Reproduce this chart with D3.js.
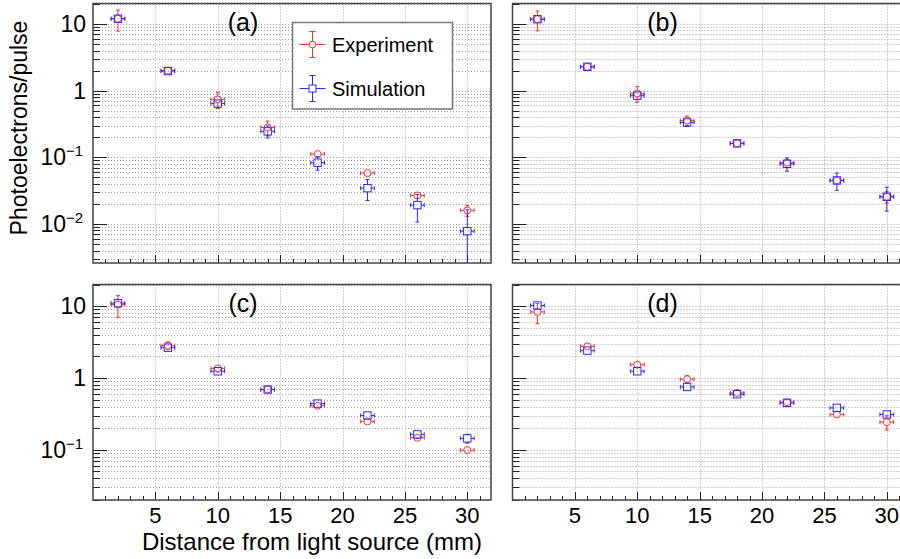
<!DOCTYPE html>
<html><head><meta charset="utf-8">
<script src="https://cdn.jsdelivr.net/npm/d3@7"></script>
<style>body{margin:0;background:#fff}svg{display:block;font-family:"Liberation Sans",Arial,Helvetica,sans-serif}</style>
</head><body><svg id="c" width="900" height="559"></svg>
<script>
// ---- data ----
const distances = [2, 6, 10, 14, 18, 22, 26, 30];
const xErr = 0.55;
const panelLabels = ["(a)", "(b)", "(c)", "(d)"];
const seriesNames = ["Experiment", "Simulation"];
const xTickValues = [5, 10, 15, 20, 25, 30];

const expA    = [12.0, 2.0, 0.74, 0.28, 0.112, 0.058, 0.0268, 0.016];
const expAErr = [4.2, 0.15, 0.2, 0.07, 0.01, 0.004, 0.002, 0.003];
const simA    = [12.0, 1.97, 0.64, 0.245, 0.083, 0.0345, 0.0192, 0.0078];
const simAErr = [1.2, 0.1, 0.08, 0.05, 0.019, 0.012, 0.0085, 0.0085];

const expB    = [11.8, 2.28, 0.91, 0.356, 0.162, 0.083, 0.045, 0.0256];
const expBErr = [3.9, 0.12, 0.24, 0.06, 0.012, 0.006, 0.004, 0.005];
const simB    = [11.8, 2.28, 0.84, 0.333, 0.162, 0.080, 0.045, 0.0256];
const simBErr = [1.2, 0.12, 0.08, 0.04, 0.015, 0.018, 0.013, 0.01];

const expC    = [10.5, 2.82, 1.36, 0.69, 0.41, 0.248, 0.147, 0.099];
const expCErr = [3.5, 0.35, 0.15, 0.06, 0.03, 0.015, 0.012, 0.008];
const simC    = [11.0, 2.64, 1.24, 0.69, 0.44, 0.30, 0.164, 0.144];
const simCErr = [1.0, 0.2, 0.1, 0.05, 0.04, 0.03, 0.02, 0.02];

const expD    = [8.3, 2.76, 1.53, 0.96, 0.62, 0.46, 0.31, 0.243];
const expDErr = [2.6, 0.25, 0.12, 0.12, 0.04, 0.04, 0.02, 0.055];
const simD    = [10.2, 2.4, 1.24, 0.75, 0.594, 0.45, 0.383, 0.31];
const simDErr = [0.8, 0.2, 0.08, 0.06, 0.05, 0.04, 0.03, 0.03];

// ---- layout ----
const svg = d3.select("#c");
const RED = "#ff3030", BLUE = "#2a2aff";
const panels = [
  {label: panelLabels[0], exp: expA, expErr: expAErr, sim: simA, simErr: simAErr, left: 93, top: 3.5, w: 398, h: 259.5, yDom: [0.0026, 20.3], yLab: true, xLab: false, legend: true},
  {label: panelLabels[1], exp: expB, expErr: expBErr, sim: simB, simErr: simBErr, left: 512.5, top: 3.5, w: 398, h: 259.5, yDom: [0.0026, 20.3], yLab: false, xLab: false},
  {label: panelLabels[2], exp: expC, expErr: expCErr, sim: simC, simErr: simCErr, left: 93, top: 284.5, w: 398, h: 215.5, yDom: [0.02, 20], yLab: true, xLab: true},
  {label: panelLabels[3], exp: expD, expErr: expDErr, sim: simD, simErr: simDErr, left: 512.5, top: 284.5, w: 398, h: 215.5, yDom: [0.02, 20], yLab: false, xLab: true}
];

function logTicks(dom) {
  const out = [];
  for (let e = Math.floor(Math.log10(dom[0])); e <= Math.ceil(Math.log10(dom[1])); e++) {
    for (let m = 1; m <= 9; m++) {
      const v = m * Math.pow(10, e);
      if (v >= dom[0] && v <= dom[1]) out.push({v, major: m === 1, e});
    }
  }
  return out;
}

function drawErr(g, x, y, cx, val, err, color, shape) {
  const px = x(cx), py = y(val);
  const r = shape === "circle" ? 3.5 : 3.7;
  const yBottom = y.range()[0];
  const loClipped = !(val - err > 0) || y(val - err) > yBottom;
  const lo = loClipped ? yBottom : y(val - err);
  const hi = y(val + err);
  const xl = x(cx - xErr), xr = x(cx + xErr);
  const gg = g.append("g").attr("stroke", color).attr("stroke-width", 1).attr("fill", "none");
  gg.append("line").attr("x1", xl).attr("x2", px - r).attr("y1", py).attr("y2", py);
  gg.append("line").attr("x1", px + r).attr("x2", xr).attr("y1", py).attr("y2", py);
  gg.append("line").attr("x1", xl).attr("x2", xl).attr("y1", py - 2).attr("y2", py + 2);
  gg.append("line").attr("x1", xr).attr("x2", xr).attr("y1", py - 2).attr("y2", py + 2);
  if (hi < py - r) {
    gg.append("line").attr("x1", px).attr("x2", px).attr("y1", hi).attr("y2", py - r);
    gg.append("line").attr("x1", px - 2).attr("x2", px + 2).attr("y1", hi).attr("y2", hi);
  }
  if (lo > py + r) {
    gg.append("line").attr("x1", px).attr("x2", px).attr("y1", py + r).attr("y2", lo);
    if (!loClipped) gg.append("line").attr("x1", px - 2).attr("x2", px + 2).attr("y1", lo).attr("y2", lo);
  }
  if (shape === "circle") gg.append("circle").attr("cx", px).attr("cy", py).attr("r", r);
  else gg.append("rect").attr("x", px - r).attr("y", py - r).attr("width", 2 * r).attr("height", 2 * r);
}

panels.forEach((p, i) => {
  const x = d3.scaleLinear().domain([0, 31.9]).range([p.left, p.left + p.w]);
  const y = d3.scaleLog().domain(p.yDom).range([p.top + p.h, p.top]);
  const g = svg.append("g");

  const yt = logTicks(p.yDom);
  const grid = g.append("g").attr("stroke", "#a0a0a0").attr("stroke-width", 1).attr("stroke-dasharray", "1,2");
  yt.forEach(t => grid.append("line").attr("x1", p.left).attr("x2", p.left + p.w)
    .attr("y1", Math.round(y(t.v)) + 0.5).attr("y2", Math.round(y(t.v)) + 0.5));
  xTickValues.forEach(v => grid.append("line").attr("x1", Math.round(x(v)) + 0.5).attr("x2", Math.round(x(v)) + 0.5)
    .attr("y1", p.top).attr("y2", p.top + p.h));

  const tk = g.append("g").attr("stroke", "#222").attr("stroke-width", 1);
  yt.forEach(t => {
    const yy = Math.round(y(t.v)) + 0.5;
    tk.append("line").attr("x1", p.left).attr("x2", p.left + (t.major ? 14 : 7)).attr("y1", yy).attr("y2", yy);
  });
  d3.range(1, 32).forEach(v => {
    const xx = Math.round(x(v)) + 0.5;
    const major = v % 5 === 0;
    tk.append("line").attr("x1", xx).attr("x2", xx).attr("y1", p.top + p.h).attr("y2", p.top + p.h - (major ? 8 : 4));
  });

  g.append("rect").attr("x", p.left).attr("y", p.top).attr("width", p.w).attr("height", p.h)
    .attr("fill", "none").attr("stroke", "#444").attr("stroke-width", 1.5);

  if (p.yLab) {
    yt.filter(t => t.major).forEach(t => {
      const yy = y(t.v);
      if (t.e === 1) g.append("text").attr("x", 86).attr("y", yy + 8).attr("text-anchor", "end").attr("font-size", 23).text("10");
      else if (t.e === 0) g.append("text").attr("x", 86).attr("y", yy + 8).attr("text-anchor", "end").attr("font-size", 23).text("1");
      else {
        g.append("text").attr("x", 66).attr("y", yy + 8).attr("text-anchor", "end").attr("font-size", 23).text("10");
        g.append("text").attr("x", 66).attr("y", yy - 1).attr("font-size", 15).text("\u2212" + (-t.e));
      }
    });
  }
  if (p.xLab) {
    xTickValues.forEach(v => g.append("text").attr("x", x(v)).attr("y", p.top + p.h + 23)
      .attr("text-anchor", "middle").attr("font-size", 22).text(v));
  }

  g.append("text").attr("x", p.left + 150).attr("y", p.top + 27).attr("text-anchor", "middle")
    .attr("font-size", 25).text(p.label);

  const dg = g.append("g");
  distances.forEach((d, k) => drawErr(dg, x, y, d, p.exp[k], p.expErr[k], RED, "circle"));
  distances.forEach((d, k) => drawErr(dg, x, y, d, p.sim[k], p.simErr[k], BLUE, "square"));

  if (p.legend) {
    const lg = g.append("g");
    lg.append("rect").attr("x", 292.5).attr("y", 22.5).attr("width", 160).attr("height", 86.5)
      .attr("fill", "#fff").attr("stroke", "#777").attr("stroke-width", 1.5);
    [[RED, "circle", 44.5], [BLUE, "square", 88.5]].forEach((e, j) => {
      const [col, shape, cy] = e;
      const cx = 312.5, r = shape === "circle" ? 3.3 : 3.5;
      const eg = lg.append("g").attr("stroke", col).attr("stroke-width", 1).attr("fill", "none");
      eg.append("line").attr("x1", cx - 13).attr("x2", cx - r).attr("y1", cy).attr("y2", cy);
      eg.append("line").attr("x1", cx + r).attr("x2", cx + 13).attr("y1", cy).attr("y2", cy);
      eg.append("line").attr("x1", cx).attr("x2", cx).attr("y1", cy - 13).attr("y2", cy - r);
      eg.append("line").attr("x1", cx).attr("x2", cx).attr("y1", cy + r).attr("y2", cy + 13);
      eg.append("line").attr("x1", cx - 3).attr("x2", cx + 3).attr("y1", cy - 13).attr("y2", cy - 13);
      eg.append("line").attr("x1", cx - 3).attr("x2", cx + 3).attr("y1", cy + 13).attr("y2", cy + 13);
      if (shape === "circle") eg.append("circle").attr("cx", cx).attr("cy", cy).attr("r", r);
      else eg.append("rect").attr("x", cx - r).attr("y", cy - r).attr("width", 2 * r).attr("height", 2 * r);
      lg.append("text").attr("x", 332).attr("y", cy + 7).attr("font-size", 20).text(seriesNames[j]);
    });
  }
});

svg.append("text").attr("transform", "translate(27,128) rotate(-90)").attr("text-anchor", "middle")
  .attr("font-size", 23).text("Photoelectrons/pulse");
svg.append("text").attr("x", 312).attr("y", 550).attr("text-anchor", "middle")
  .attr("font-size", 24).text("Distance from light source (mm)");
</script></body></html>
